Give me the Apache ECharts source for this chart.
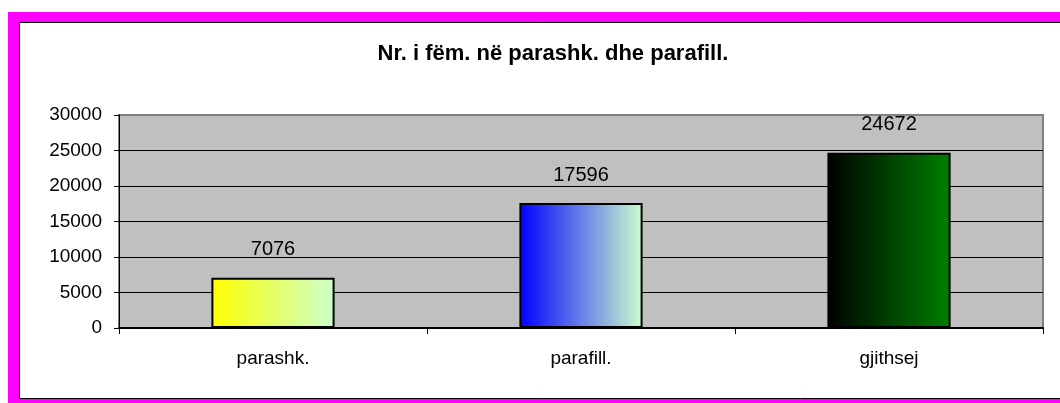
<!DOCTYPE html>
<html><head><meta charset="utf-8">
<script src="https://cdn.jsdelivr.net/npm/echarts@6/dist/echarts.min.js"></script>
<style>html,body{margin:0;padding:0;background:#fff}#c{width:1060px;height:403px}</style>
</head><body><div id="c"></div>
<script>
var titleText = 'Nr. i fëm. në parashk. dhe parafill.';
var categories = ['parashk.', 'parafill.', 'gjithsej'];
var values = [7076, 17596, 24672];
var yTicks = [0, 5000, 10000, 15000, 20000, 25000, 30000];
var gradStops = [
  ['#FFFF00', '#CCFFCC'],
  ['#0000FF', '#CCFFCC'],
  ['#000000', '#008000']
];
var FONT = '"Liberation Sans", Arial, sans-serif';
var chart = echarts.init(document.getElementById('c'), null, {renderer: 'canvas'});
chart.setOption({
  animation: false,
  backgroundColor: '#fff',
  graphic: [
    {type: 'rect', z: -10, silent: true, shape: {x: 8, y: 12, width: 1070, height: 402}, style: {fill: '#FF00FF'}},
    {type: 'rect', z: -9, silent: true, shape: {x: 19.5, y: 22.5, width: 1060, height: 376}, style: {fill: '#fff', stroke: '#000', lineWidth: 1}}
  ],
  title: {
    text: titleText, left: 548, top: 38, textAlign: 'center',
    textStyle: {fontFamily: FONT, fontSize: 22, fontWeight: 'bold', color: '#000'}
  },
  grid: {
    left: 119, top: 115, width: 924, height: 213,
    show: true, backgroundColor: '#C0C0C0', borderColor: '#808080', borderWidth: 2
  },
  xAxis: {
    type: 'category', data: categories,
    axisLine: {lineStyle: {color: '#000', width: 2}},
    axisTick: {show: true, length: 6, lineStyle: {color: '#000'}},
    axisLabel: {fontFamily: FONT, fontSize: 19, color: '#000', margin: 21}
  },
  yAxis: {
    type: 'value', min: yTicks[0], max: yTicks[yTicks.length - 1], interval: yTicks[1] - yTicks[0],
    axisLine: {show: true, lineStyle: {color: '#000', width: 1}},
    axisTick: {show: true, length: 5, lineStyle: {color: '#000'}},
    axisLabel: {fontFamily: FONT, fontSize: 19, color: '#000', margin: 17,
      formatter: function (v) { return String(v); }},
    splitLine: {show: true, showMaxLine: false, lineStyle: {color: '#000', width: 1}}
  },
  series: [{
    type: 'bar', barWidth: '40%',
    data: values.map(function (v, i) {
      return {
        value: v,
        itemStyle: {
          color: new echarts.graphic.LinearGradient(0, 0, 1, 0, [
            {offset: 0, color: gradStops[i][0]},
            {offset: 1, color: gradStops[i][1]}
          ]),
          borderColor: '#000', borderWidth: 2
        }
      };
    }),
    label: {show: true, position: 'top', distance: 18, fontFamily: FONT, fontSize: 20, color: '#000'}
  }]
});
</script></body></html>
